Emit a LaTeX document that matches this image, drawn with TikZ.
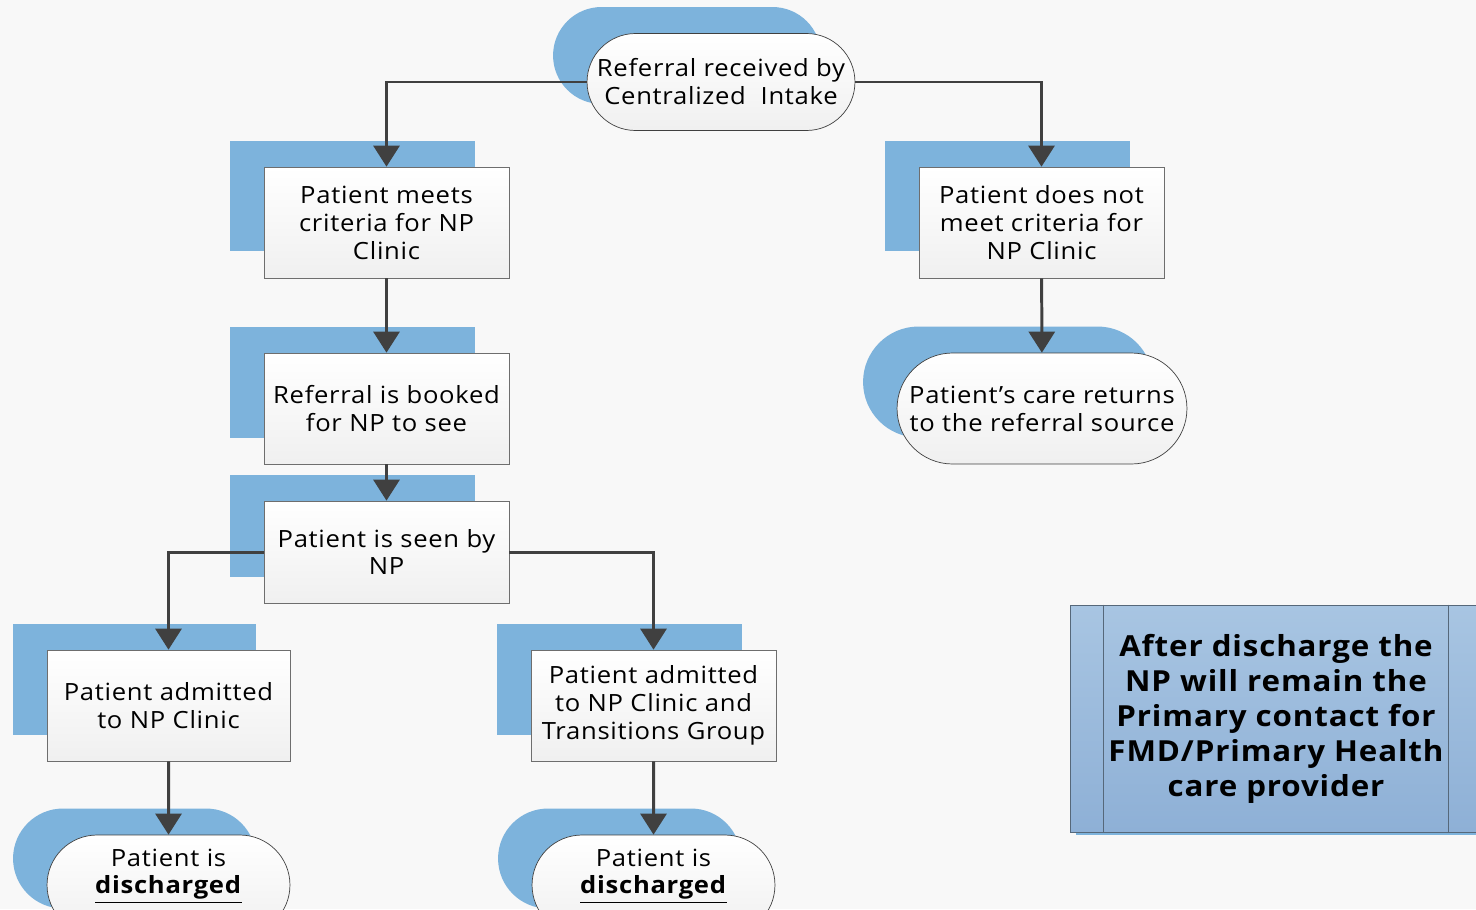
\documentclass[tikz,border=0pt]{standalone}
\usepackage{fontspec}
\setmainfont{Open Sans}[FakeStretch=1.08, LetterSpace=3]
\usetikzlibrary{arrows.meta,shapes.misc,shadows}

\definecolor{shadowblue}{HTML}{7DB3DC}
\definecolor{flowgray}{HTML}{404040}
\definecolor{boxgray}{HTML}{6E6E6E}
\definecolor{notetop}{HTML}{A8C5E2}
\definecolor{notebot}{HTML}{8EB0D6}
\definecolor{notebord}{HTML}{56687A}
\definecolor{pagebg}{HTML}{F8F8F8}

\begin{document}
\begin{tikzpicture}
        [x=0.02cm, y=-0.02cm,
        stepbox/.style={rectangle, draw=boxgray, thin, top color=white, bottom color=gray!12,
            minimum width=4.9cm, minimum height=2.22cm, align=center, inner sep=2pt,
            font=\fontsize{13.5}{15.9}\selectfont,
            general shadow={fill=shadowblue, shadow xshift=-0.68cm, shadow yshift=0.53cm}},
        stadium/.style={stepbox, rounded rectangle, draw=black!75},
        flow/.style={line width=1.7pt, flowgray, -{Triangle[width=0.52cm,length=0.42cm]}},
        note/.style={rectangle, draw=notebord, thin, top color=notetop, bottom color=notebot,
            minimum width=8.24cm, minimum height=4.54cm, align=center,
            font=\fontsize{16.5}{19.9}\selectfont\bfseries,
            general shadow={fill=shadowblue, shadow xshift=0.12cm, shadow yshift=-0.06cm}}]

        \useasboundingbox[fill=pagebg] (0,0) rectangle (1476,909);

        \node[stadium, minimum width=5.5cm, minimum height=1.94cm] (intake) at (721,82) {Referral received by\\Centralized\ \ Intake};
        \node[stepbox] (meets) at (386.5,222.5) {Patient meets\\criteria for NP\\Clinic};
        \node[stepbox] (notmeet) at (1041.5,222.5) {Patient does not\\meet criteria for\\NP Clinic};
        \node[stepbox] (booked) at (386.5,408.5) {Referral is booked\\for NP to see};
        \node[stadium, minimum width=5.94cm] (returns) at (1042,408.5) {Patient’s care returns\\to the referral source};
        \node[stepbox, minimum height=2.04cm] (seen) at (386.5,552) {Patient is seen by\\NP};
        \node[stepbox, minimum width=4.86cm] (admit) at (168.5,705.5) {Patient admitted\\to NP Clinic};
        \node[stepbox] (transit) at (653.5,705.5) {Patient admitted\\to NP Clinic and\\Transitions Group};
        \node[stadium, minimum width=5cm, minimum height=2cm, text depth=0.55cm] (dischL) at (168.5,885) {Patient is\\\underline{\textbf{discharged}}};
        \node[stadium, minimum width=5cm, minimum height=2cm, text depth=0.55cm] (dischR) at (653.5,885) {Patient is\\\underline{\textbf{discharged}}};

        % --- note box with the two inner lines ---
        \node[note] (remark) at (1276,718.5) {After discharge the\\NP will remain the\\Primary contact for\\FMD/Primary Health\\care provider};
        \draw[notebord, thin] ([xshift=0.68cm]remark.north west) -- ([xshift=0.68cm]remark.south west);
        \draw[notebord, thin] ([xshift=-0.68cm]remark.north east) -- ([xshift=-0.68cm]remark.south east);

        \draw[flow] (intake.west) -| (meets.north);
        \draw[flow] (intake.east) -| (notmeet.north);
        \draw[flow] (meets) -- (booked);
        \draw[flow] (booked) -- (seen);
        \draw[flow] (notmeet) -- (returns);
        \draw[flow] (seen.west) -| (admit.north);
        \draw[flow] (seen.east) -| (transit.north);
        \draw[flow] (admit) -- (dischL);
        \draw[flow] (transit) -- (dischR);
    \end{tikzpicture}
\end{document}
